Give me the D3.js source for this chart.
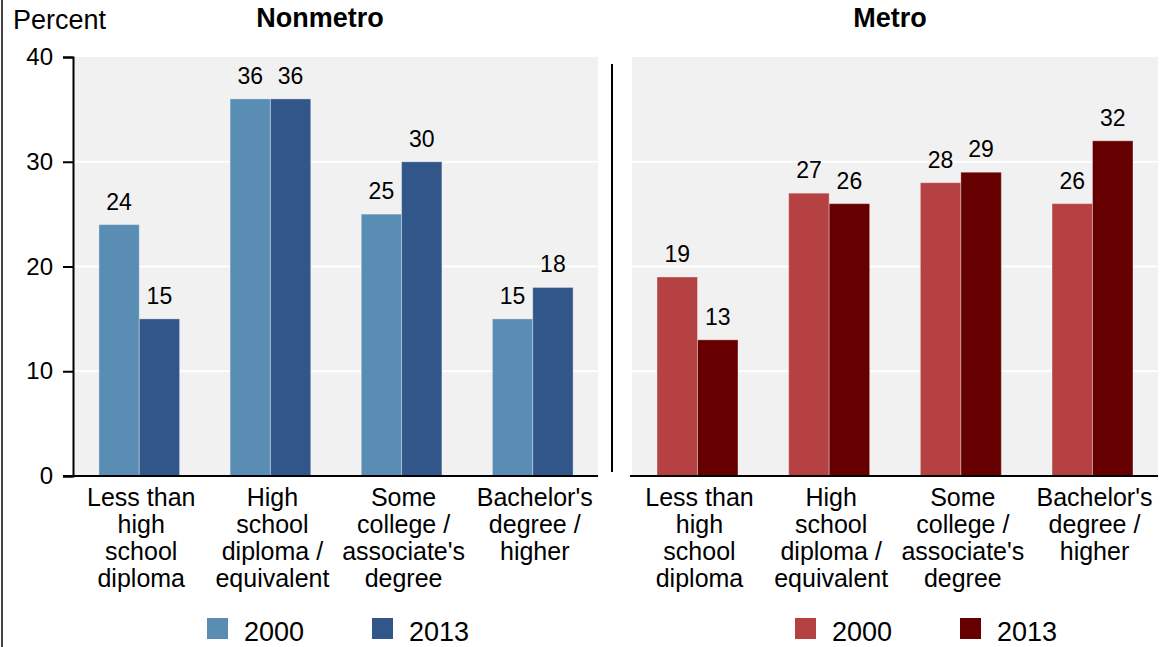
<!DOCTYPE html>
<html><head><meta charset="utf-8">
<script src="https://cdn.jsdelivr.net/npm/d3@7"></script>
<style>
html,body{margin:0;padding:0;background:#fff;}
svg text{font-family:"Liberation Sans",Arial,sans-serif;fill:#000;}
</style></head>
<body><svg id="c" width="1160" height="647"></svg>
<script>
const categories = ["Less than high school diploma","High school diploma / equivalent","Some college / associate's degree","Bachelor's degree / higher"];
const categoryLines = [["Less than","high","school","diploma"],["High","school","diploma /","equivalent"],["Some","college /","associate's","degree"],["Bachelor's","degree /","higher"]];
const years = ["2000","2013"];
const nonmetro2000 = [24,36,25,15];
const nonmetro2013 = [15,36,30,18];
const metro2000 = [19,27,28,26];
const metro2013 = [13,26,29,32];
const yTicks = [0,10,20,30,40];
const panelTitles = ["Nonmetro","Metro"];

const panels = [
  {title:panelTitles[0], values:[nonmetro2000,nonmetro2013], colors:["#5a8db4","#30568a"], x0:74, x1:598, titleX:320, legendX:[207,372]},
  {title:panelTitles[1], values:[metro2000,metro2013], colors:["#b54142","#660000"], x0:632, x1:1158, titleX:890, legendX:[795,960]}
];

const svg = d3.select("#c");
const y = d3.scaleLinear().domain([0,40]).range([476,57]);

svg.append("line").attr("x1",2).attr("x2",2).attr("y1",0).attr("y2",647).attr("stroke","#444").attr("stroke-width",2);

svg.append("text").attr("x",13).attr("y",29).attr("font-size",27).text("Percent");

panels.forEach((p,pi)=>{
  const g = svg.append("g");
  g.append("rect").attr("x",p.x0).attr("y",y(40)).attr("width",p.x1-p.x0).attr("height",y(0)-y(40)).attr("fill","#f1f1f1");
  g.selectAll(".grid").data(yTicks.filter(d=>d>0&&d<40)).join("line")
    .attr("x1",p.x0).attr("x2",p.x1).attr("y1",d=>y(d)).attr("y2",d=>y(d))
    .attr("stroke","#fff").attr("stroke-width",2);
  const x = d3.scaleBand().domain(categories).range([p.x0,p.x1]).paddingInner(0.385).paddingOuter(0.19);
  const xs = d3.scaleBand().domain(years).range([0,x.bandwidth()]);
  categories.forEach((c,ci)=>{
    years.forEach((yr,yi)=>{
      const v = p.values[yi][ci];
      g.append("rect").attr("x",x(c)+xs(yr)).attr("y",y(v)).attr("width",xs.bandwidth()).attr("height",y(0)-y(v))
        .attr("fill",p.colors[yi]).attr("stroke","rgba(255,255,255,0.35)").attr("stroke-width",1);
      g.append("text").attr("x",x(c)+xs(yr)+xs.bandwidth()/2).attr("y",y(v)-15)
        .attr("text-anchor","middle").attr("font-size",23).text(v);
    });
    categoryLines[ci].forEach((ln,li)=>{
      g.append("text").attr("text-anchor","middle").attr("font-size",25)
        .attr("x",x(c)+x.bandwidth()/2+2).attr("y",506+li*27).text(ln);
    });
  });
  g.append("line").attr("x1",pi===0?63:p.x0-2).attr("x2",p.x1).attr("y1",y(0)).attr("y2",y(0)).attr("stroke","#000").attr("stroke-width",2);
  g.append("text").attr("x",p.titleX).attr("y",27).attr("text-anchor","middle").attr("font-size",27).attr("font-weight","bold").text(p.title);
  years.forEach((yr,yi)=>{
    g.append("rect").attr("x",p.legendX[yi]).attr("y",618).attr("width",21).attr("height",21).attr("fill",p.colors[yi]);
    g.append("text").attr("x",p.legendX[yi]+37).attr("y",641).attr("font-size",27).text(yr);
  });
});

const yAxis = d3.axisLeft(y).tickValues(yTicks).tickSize(10).tickPadding(10);
const ya = svg.append("g").attr("transform","translate(73,0)").call(yAxis);
ya.select(".domain").attr("stroke","#000").attr("stroke-width",2);
ya.selectAll(".tick line").attr("stroke","#000").attr("stroke-width",2);
ya.selectAll(".tick text").attr("font-size",24).attr("font-family","Liberation Sans, Arial, sans-serif").attr("fill","#000");

svg.append("line").attr("x1",612).attr("x2",612).attr("y1",64).attr("y2",472).attr("stroke","#000").attr("stroke-width",2);
</script></body></html>
